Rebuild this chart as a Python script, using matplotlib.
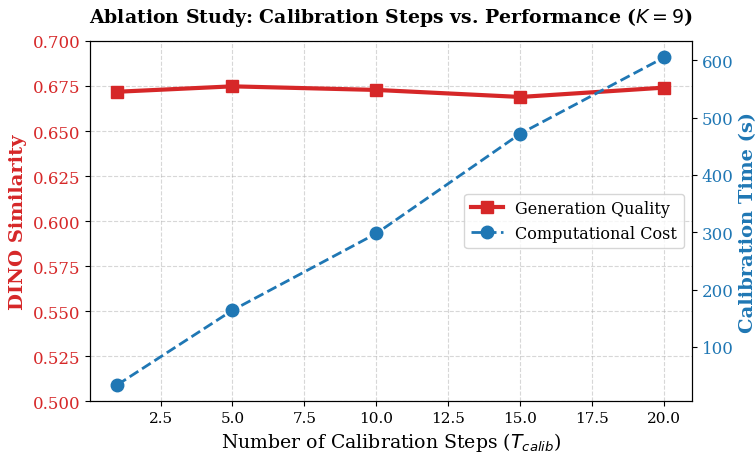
import matplotlib.pyplot as plt

plt.rcParams["font.family"] = "DejaVu Serif"

steps = [1, 5, 10, 15, 20]
dino_sim = [0.6718, 0.6748, 0.6728, 0.6689, 0.6741]
calib_time = [34, 164, 298, 472, 605]

RED = "#d62728"
BLUE = "#1f77b4"

fig, ax1 = plt.subplots(figsize=(7.56, 4.56), dpi=100)
fig.subplots_adjust(left=0.119, right=0.915, top=0.908, bottom=0.118)

l1, = ax1.plot(steps, dino_sim, color=RED, marker="s", markersize=9, lw=3,
               label="Generation Quality")
ax1.set_ylim(0.5, 0.7)
ax1.set_xlabel(r"Number of Calibration Steps ($T_{calib}$)", fontsize=13.6)
ax1.set_ylabel("DINO Similarity", color=RED, fontsize=14, fontweight="bold")
ax1.tick_params(axis="y", labelcolor=RED, labelsize=12)
ax1.tick_params(axis="x", labelsize=11)
ax1.grid(True, linestyle="--", alpha=0.5)

ax2 = ax1.twinx()
l2, = ax2.plot(steps, calib_time, color=BLUE, marker="o", markersize=9, lw=2,
               linestyle="--", label="Computational Cost")
ax2.set_ylabel("Calibration Time (s)", color=BLUE, fontsize=14, fontweight="bold")
ax2.tick_params(axis="y", labelcolor=BLUE, labelsize=12)

ax1.legend(handles=[l1, l2], loc="center right", fontsize=11.5)
ax1.set_title(r"Ablation Study: Calibration Steps vs. Performance ($K=9$)",
              fontsize=13.6, fontweight="bold", pad=14)

plt.savefig("out.png", dpi=100)
plt.close()
